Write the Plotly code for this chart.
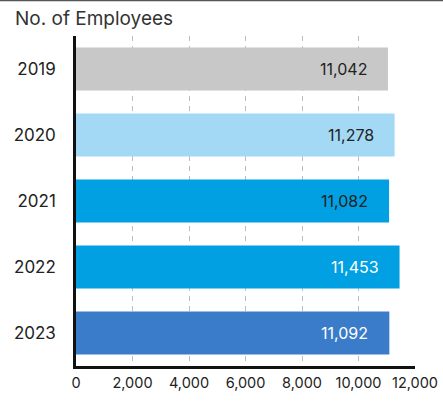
import plotly.graph_objects as go

years = ["2019", "2020", "2021", "2022", "2023"]
employees = [11042, 11278, 11082, 11453, 11092]
bar_colors = ["#c8c8c8", "#a3d9f5", "#00a0e2", "#00a0e2", "#3a7cc9"]
label_colors = ["#222222", "#222222", "#222222", "#ffffff", "#ffffff"]
x_ticks = [0, 2000, 4000, 6000, 8000, 10000, 12000]

FONT = "Inter, Roboto, sans-serif"
W, H = 443, 403
ML, MR, MT, MB = 76, 28, 36, 37
PW, PH = W - ML - MR, H - MT - MB

# top-to-bottom order: first year at the top of the axis
order = years[::-1]

fig = go.Figure(
    go.Bar(
        x=employees,
        y=years,
        orientation="h",
        marker=dict(color=bar_colors, line=dict(width=0)),
        width=0.65,
        hoverinfo="skip",
    )
)

# value labels, right-aligned inside each bar
for yr, val, col in zip(years, employees, label_colors):
    fig.add_annotation(
        x=val, y=order.index(yr), xref="x", yref="y",
        text=f"{val:,}", showarrow=False,
        xanchor="right", yanchor="middle", xshift=-19,
        font=dict(family=FONT, size=16, color=col),
    )

# heading above the plot
fig.add_annotation(
    x=(13 - ML) / PW, y=1 + (MT - 18) / PH, xref="paper", yref="paper",
    text="No. of Employees", showarrow=False, xanchor="left", yanchor="middle",
    font=dict(family=FONT, size=19, color="#333333"),
)
# rule along the top edge
fig.add_shape(type="line", xref="paper", yref="paper",
              x0=-ML / PW, x1=(W - ML) / PW,
              y0=1 + (MT - 0.5) / PH, y1=1 + (MT - 0.5) / PH,
              line=dict(color="#555555", width=1.5))

fig.update_layout(
    width=W, height=H,
    margin=dict(l=ML, r=MR, t=MT, b=MB, autoexpand=False),
    plot_bgcolor="white", paper_bgcolor="white",
    showlegend=False,
    font=dict(family=FONT, size=14, color="#222222"),
    xaxis=dict(
        range=[0, 12000], tickvals=x_ticks,
        ticktext=[f"{v:,}" for v in x_ticks],
        showgrid=True, gridcolor="#bdbdbd", griddash="5px,5px", gridwidth=1,
        zeroline=False, showline=True, linecolor="#111111", linewidth=2.5,
        ticks="", tickfont=dict(size=14.5, color="#222222"),
        ticklabelstandoff=2,
        automargin=False, fixedrange=True,
    ),
    yaxis=dict(
        type="category",
        categoryorder="array", categoryarray=order,
        range=[-0.5, 4.5],
        showgrid=False, zeroline=False,
        showline=True, linecolor="#111111", linewidth=2.5,
        ticks="", ticklabelstandoff=14,
        tickfont=dict(size=17, color="#222222"),
        automargin=False, fixedrange=True,
    ),
)

fig.write_html("out.html")
